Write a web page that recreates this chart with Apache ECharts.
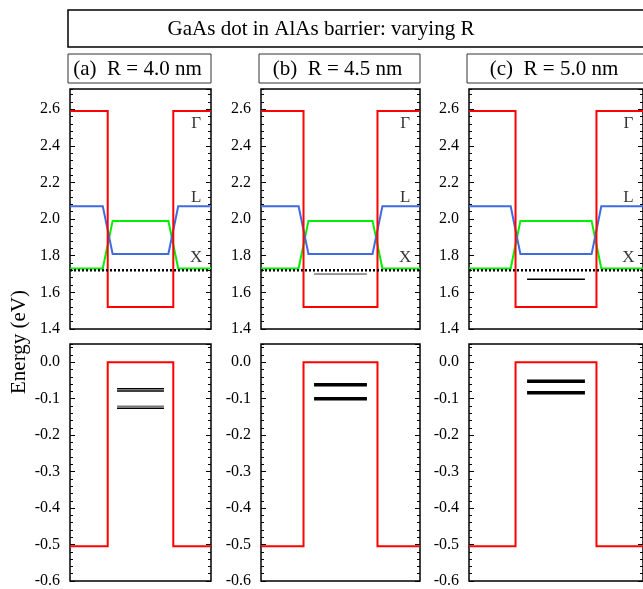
<!DOCTYPE html>
<html>
<head>
<meta charset="utf-8">
<script src="https://cdn.jsdelivr.net/npm/echarts@6/dist/echarts.min.js"></script>
<style>
  html, body { margin: 0; padding: 0; background: #fff; }
  #chart { width: 643px; height: 589px; }
</style>
</head>
<body>
<div id="chart"></div>
<script>
// Dot radii (nm) and panel captions
const dotRadii = [4.0, 4.5, 5.0];
const panelCaptions = ['(a)  R = 4.0 nm', '(b)  R = 4.5 nm', '(c)  R = 5.0 nm'];

// Conduction band edges (eV): barrier / dot
const gammaEdge = [2.59, 1.52];
const lEdge = [2.07, 1.81];
const xEdge = [1.73, 1.99];
const xMinimum = 1.72;          // dotted reference level

// Valence band edges (eV): dot / barrier
const valenceEdge = [0.0, -0.505];

// Confined states (eV)
const electronStates = [[], [1.70], [1.672]];
const holeStates = [[-0.073, -0.079, -0.121, -0.126], [-0.062, -0.100], [-0.052, -0.084]];
const holeStateColors = [['#000', '#000', '#777', '#000'], ['#000', '#000'], ['#000', '#000']];

// Valley labels
const valleyNames = ['\u0393', 'L', 'X'];
const valleyLabelEnergy = [2.52, 2.12, 1.79];

// Axis ranges and tick steps
const cbRange = [1.4, 2.71], cbMajor = 0.2, cbMinor = 0.04, cbLastLabel = 2.6;
const vbRange = [-0.6, 0.05], vbMajor = 0.1, vbMinor = 0.02, vbLastLabel = 0.0;

// ---- layout (pixels) ----
const panelLeft = [70, 261, 469];
const pxPerNm = 141 / (2 * 2.15 * 4.0);
const boxFactor = 2.15;          // half-width of the simulation box in units of R
const rampHalf = 0.6;            // nm, smoothing of L/X edges
const stateHalfFactor = 0.715;   // drawn width of a state in units of R
const cbTop = 89, cbHeight = 240;
const vbTop = 344, vbHeight = 239;
const serif = '"Liberation Serif", "Times New Roman", serif';

const grids = [], xAxes = [], yAxes = [], series = [];

function fmtLabel(last, step) {
  return function (v) {
    const k = v / step;
    if (Math.abs(k - Math.round(k)) > 1e-6 || v > last + 1e-9) return '';
    if (Math.abs(v) < 1e-9) return '0.0';
    return v.toFixed(1);
  };
}

function addGrid(left, width, top, height, range, major, minor, last, halfBox) {
  const g = grids.length;
  grids.push({ left: left, top: top, width: width, height: height, show: true,
    borderColor: '#000', borderWidth: 1.5, backgroundColor: 'transparent' });
  xAxes.push({ gridIndex: g, type: 'value', min: -halfBox, max: halfBox, show: false,
    axisLine: { onZero: false } });
  const yBase = yAxes.length;
  ['left', 'right'].forEach(function (pos) {
    // major ticks
    yAxes.push({ gridIndex: g, type: 'value', position: pos, min: range[0], max: range[1],
      interval: major, axisLine: { show: false, onZero: false }, splitLine: { show: false },
      axisTick: { inside: true, length: 5, lineStyle: { color: '#000', width: 1 } },
      axisLabel: { show: pos === 'left', margin: 10, fontFamily: serif, fontSize: 16, color: '#000',
        showMaxLabel: false, showMinLabel: true, hideOverlap: false,
        verticalAlignMinLabel: 'middle', verticalAlignMaxLabel: 'middle',
        formatter: fmtLabel(last, major) } });
    // minor ticks
    yAxes.push({ gridIndex: g, type: 'value', position: pos, min: range[0], max: range[1],
      interval: minor, axisLine: { show: false, onZero: false }, splitLine: { show: false },
      axisTick: { inside: true, length: 3, lineStyle: { color: '#000', width: 1 } },
      axisLabel: { show: false } });
  });
  return { g: g, y: yBase };
}

function lineSeries(ax, data, color, width, type, z) {
  return { type: 'line', xAxisIndex: ax.g, yAxisIndex: ax.y, data: data, showSymbol: false,
    symbol: 'none', silent: true, z: z || 2,
    lineStyle: { color: color, width: width, type: type || 'solid', cap: 'butt', join: 'miter' } };
}

dotRadii.forEach(function (R, i) {
  const half = boxFactor * R;
  const width = Math.round(2 * half * pxPerNm);

  // conduction band panel
  const cb = addGrid(panelLeft[i], width, cbTop, cbHeight, cbRange, cbMajor, cbMinor, cbLastLabel, half);
  const ramp = function (edge) {
    return [[-half, edge[0]], [-R - rampHalf, edge[0]], [-R + rampHalf, edge[1]],
            [R - rampHalf, edge[1]], [R + rampHalf, edge[0]], [half, edge[0]]];
  };
  series.push(lineSeries(cb, ramp(xEdge), '#00ee00', 2, 'solid', 2));
  series.push(lineSeries(cb, ramp(lEdge), '#4169e1', 2, 'solid', 3));
  series.push(lineSeries(cb, [[-half, gammaEdge[0]], [-R, gammaEdge[0]], [-R, gammaEdge[1]],
    [R, gammaEdge[1]], [R, gammaEdge[0]], [half, gammaEdge[0]]], '#ff0000', 2, 'solid', 4));
  series.push(lineSeries(cb, [[-half, xMinimum], [half, xMinimum]], '#000', 2.5, [2, 2], 5));
  electronStates[i].forEach(function (e) {
    const w = stateHalfFactor * R;
    series.push(lineSeries(cb, [[-w, e], [w, e]], i === 1 ? '#333' : '#000', i === 1 ? 1 : 1.5, 'solid', 6));
  });
  series.push({ type: 'scatter', xAxisIndex: cb.g, yAxisIndex: cb.y, silent: true, z: 7,
    symbolSize: 1, itemStyle: { color: 'rgba(0,0,0,0)' },
    data: valleyNames.map(function (n, k) { return [half - 1.8, valleyLabelEnergy[k], n]; }),
    label: { show: true, position: 'inside', formatter: function (p) { return p.value[2]; },
      fontFamily: serif, fontSize: 17, color: '#000' } });

  // valence band panel
  const vb = addGrid(panelLeft[i], width, vbTop, vbHeight, vbRange, vbMajor, vbMinor, vbLastLabel, half);
  series.push(lineSeries(vb, [[-half, valenceEdge[1]], [-R, valenceEdge[1]], [-R, valenceEdge[0]],
    [R, valenceEdge[0]], [R, valenceEdge[1]], [half, valenceEdge[1]]], '#ff0000', 2, 'solid', 4));
  holeStates[i].forEach(function (e, k) {
    const w = stateHalfFactor * R;
    series.push(lineSeries(vb, [[-w, e], [w, e]], holeStateColors[i][k], i === 0 ? 1.5 : 3.5, 'solid', 6));
  });
});

// Caption boxes and texts
const graphics = [];
function txt(x, y, s, size, rot) {
  return { type: 'text', x: x, y: y, rotation: rot || 0, z: 100,
    style: { text: s, x: 0, y: 0, fill: '#000', font: size + 'px ' + serif,
      align: 'center', verticalAlign: 'middle', textAlign: 'center', textVerticalAlign: 'middle' } };
}
function box(x, y, w, h, color, lw) {
  return { type: 'rect', z: 100, shape: { x: x, y: y, width: w, height: h },
    style: { fill: 'none', stroke: color, lineWidth: lw } };
}
graphics.push(box(68, 10, 620, 37, '#000', 1.5));
graphics.push(txt(321, 29, 'GaAs dot in AlAs barrier: varying R', 21));
dotRadii.forEach(function (R, i) {
  const width = Math.round(2 * boxFactor * R * pxPerNm);
  graphics.push(box(panelLeft[i] - 2, 54, width + 2, 29, '#333', 1));
  graphics.push(txt(panelLeft[i] + width / 2 - 3, 69, panelCaptions[i], 21));
});
graphics.push(txt(19, 342, 'Energy (eV)', 21, Math.PI / 2));

const chart = echarts.init(document.getElementById('chart'), null, { renderer: 'canvas' });
chart.setOption({
  animation: false,
  backgroundColor: '#fff',
  grid: grids,
  xAxis: xAxes,
  yAxis: yAxes,
  series: series,
  graphic: graphics
});
</script>
</body>
</html>
